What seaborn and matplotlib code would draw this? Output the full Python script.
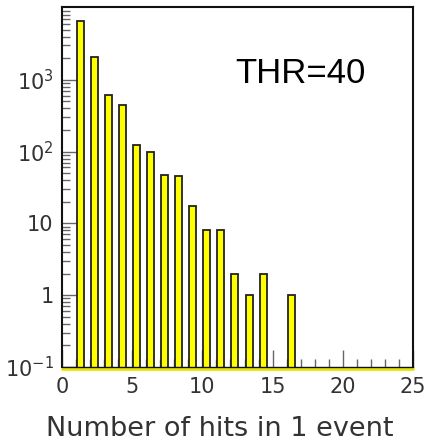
import numpy as np
import matplotlib
matplotlib.use("Agg")
import matplotlib.pyplot as plt
import matplotlib.ticker as mticker
import matplotlib.transforms as mtransforms
import seaborn as sns

# ---- data ----
hits = [1, 2, 3, 4, 5, 6, 7, 8, 9, 10, 11, 12, 13, 14, 16]
counts = [6550, 2060, 620, 450, 122, 99, 47, 45, 17.6, 8, 8, 2, 1, 2, 1]
xtick_vals = [0, 5, 10, 15, 20, 25]
ytick_vals = [0.1, 1, 10, 100, 1000]
ytick_labels = [r"$10^{-1}$", "1", "10", r"$10^{2}$", r"$10^{3}$"]
annotation = "THR=40"
xlabel = "Number of hits in 1 event"

# ---- style ----
BAR_OFFSET = 0.32
sns.set_style("white")
plt.rcParams["font.family"] = ["DejaVu Sans"]
plt.rcParams["mathtext.default"] = "regular"
plt.rcParams["xtick.bottom"] = True
plt.rcParams["ytick.left"] = True
plt.rcParams["xtick.direction"] = "in"
plt.rcParams["ytick.direction"] = "in"

fig = plt.figure(figsize=(4.3, 4.47), dpi=100)
ax = fig.add_axes([62 / 430, 1 - 367 / 447, (413 - 62) / 430, (367 - 7) / 447])
ax.set_yscale("log")

sns.barplot(x=np.array(hits) + BAR_OFFSET, y=counts, native_scale=True, width=0.5,
            color="#ffff00", saturation=1, edgecolor="#222222", linewidth=1.3,
            errorbar=None, ax=ax)
for p in ax.patches:
    p.set_zorder(3)

ax.set_xlim(0, 25)
ax.set_ylim(0.1, 1.03e4)

ax.set_xticks(xtick_vals)
ax.set_xticklabels([str(v) for v in xtick_vals])
ax.xaxis.set_minor_locator(mticker.MultipleLocator(1))
ax.set_yticks(ytick_vals)
ax.set_yticklabels(ytick_labels)
ax.yaxis.set_minor_locator(mticker.LogLocator(base=10, subs=np.arange(2, 10), numticks=20))
ax.yaxis.set_minor_formatter(mticker.NullFormatter())

ax.tick_params(axis="both", which="major", direction="in", length=12, width=1,
               color="#666666", labelsize=15, labelcolor="#333333",
               left=True, bottom=True, right=False, top=False)
ax.tick_params(axis="both", which="minor", direction="in", length=6, width=1,
               color="#666666", left=True, bottom=True, right=False, top=False)
ax.tick_params(axis="x", which="major", pad=7)
ax.tick_params(axis="y", which="major", pad=6)

for side in ["left", "top", "right", "bottom"]:
    ax.spines[side].set_color("#111111")
    ax.spines[side].set_linewidth(1.5)
ax.spines["bottom"].set_linewidth(1)
ax.spines["bottom"].set_zorder(4)

# yellow baseline just under the bottom frame
yl_trans = mtransforms.offset_copy(ax.transAxes, fig=fig, x=0, y=-1.5, units="dots")
ax.plot([0, 1], [0, 0], transform=yl_trans, color="#e6e600", lw=2, clip_on=False, zorder=4)

ax.set_xlabel(xlabel, fontsize=19.5, color="#333333")
ax.xaxis.set_label_coords(0.45, -0.135)
ax.set_ylabel("")

ax.text(0.68, 0.815, annotation, transform=ax.transAxes, ha="center", va="center",
        fontsize=25, family="Liberation Sans", color="black")

fig.savefig("out.png", dpi=100)
